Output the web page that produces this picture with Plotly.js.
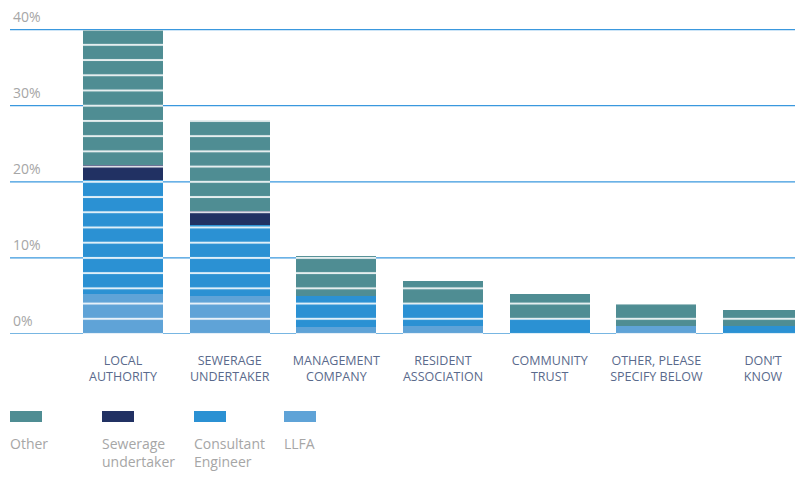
<!DOCTYPE html>
<html>
<head>
<meta charset="utf-8">
<script src="https://cdn.plot.ly/plotly-3.0.1.min.js"></script>
<style>html,body{margin:0;padding:0;background:#fff;}#chart{width:795px;height:491px;}</style>
</head>
<body>
<div id="chart"></div>
<script>
// Categories (x axis)
const categories = ["LOCAL<br>AUTHORITY", "SEWERAGE<br>UNDERTAKER", "MANAGEMENT<br>COMPANY", "RESIDENT<br>ASSOCIATION", "COMMUNITY<br>TRUST", "OTHER, PLEASE<br>SPECIFY BELOW", "DON\u2019T<br>KNOW"];
// Series values (%), stacked bottom to top
const llfa       = [5.2, 5.0, 0.9, 1.0, 0.0, 1.0, 0.0];
const consultant = [15.1, 9.3, 4.15, 3.0, 2.0, 0.0, 1.0];
const sewerage   = [1.9, 1.8, 0.0, 0.0, 0.0, 0.0, 0.0];
const other      = [17.8, 12.0, 5.25, 2.9, 3.2, 2.96, 2.1];
const seriesNames = ["Other", "Sewerage<br>undertaker", "Consultant<br>Engineer", "LLFA"];
const yTickVals = [0, 10, 20, 30, 40];
const yTickText = ["0%", "10%", "20%", "30%", "40%"];

const colors = {other: "#4f8d93", sewerage: "#213163", consultant: "#2b91d3", llfa: "#5fa3d7"};

const W = 795, H = 491;
const M = {l: 10, r: 0, t: 22, b: 157};
const plotH = H - M.t - M.b;
const yMax = 41;
const ppu = plotH / yMax;
const xIdx = categories.map((c, i) => i);

function barTrace(name, vals, color) {
  return {
    type: "bar", name: name, x: xIdx, y: vals, width: 0.75,
    marker: {
      color: color, line: {width: 0},
      pattern: {shape: "-", fillmode: "overlay", bgcolor: color, fgcolor: "#ffffff", fgopacity: 0.85, size: 2 * ppu, solidity: 0.13}
    },
    hoverinfo: "none", showlegend: false
  };
}

const data = [
  barTrace("LLFA", llfa, colors.llfa),
  barTrace("Consultant Engineer", consultant, colors.consultant),
  barTrace("Sewerage undertaker", sewerage, colors.sewerage),
  barTrace("Other", other, colors.other)
];

const plotW = W - M.l - M.r;
const px2x = px => (px - M.l) / plotW;
const px2y = py => (M.t + plotH - py) / plotH;
const shapes = [], annotations = [];

// horizontal grid lines (drawn below the bars)
yTickVals.forEach(v => {
  shapes.push({type: "line", layer: "below", xref: "paper", yref: "y", x0: 0, x1: 1, y0: v, y1: v,
    line: {color: v === 0 ? "#78b6e2" : "#3a98de", width: v === 0 ? 2 : 1.2}});
});

// custom legend (boxes above labels)
const legendColors = [colors.other, colors.sewerage, colors.consultant, colors.llfa];
const legendX = [10, 102, 194, 284];
seriesNames.forEach((n, i) => {
  shapes.push({type: "rect", xref: "paper", yref: "paper", x0: px2x(legendX[i]), x1: px2x(legendX[i] + 32), y0: px2y(422), y1: px2y(411), fillcolor: legendColors[i], line: {width: 0}});
  annotations.push({xref: "paper", yref: "paper", x: px2x(legendX[i] - 2), y: px2y(432), xanchor: "left", yanchor: "top", align: "left", showarrow: false, text: n, font: {family: "Open Sans, sans-serif", size: 14, color: "#a6a6a6"}});
});

const layout = {
  width: W, height: H,
  margin: M,
  paper_bgcolor: "#ffffff", plot_bgcolor: "#ffffff",
  barmode: "stack",
  showlegend: false,
  font: {family: "Open Sans, sans-serif"},
  xaxis: {
    range: [-1.0594, 6.3], tickvals: xIdx, ticktext: categories,
    showgrid: false, zeroline: false, showline: false, ticks: "",
    tickfont: {size: 12.5, color: "#5a6a8c"}, ticklabelstandoff: 17, fixedrange: true
  },
  yaxis: {
    range: [0, yMax], tickvals: yTickVals, ticktext: yTickText,
    showgrid: false, zeroline: false, showline: false, ticks: "",
    ticklabelposition: "inside", ticklabelshift: -13, ticklabelstandoff: 0, ticklabeloverflow: "allow",
    tickfont: {size: 14, color: "#a6a6a6"}, fixedrange: true
  },
  shapes: shapes,
  annotations: annotations
};

Plotly.newPlot("chart", data, layout, {displayModeBar: false, staticPlot: true});
</script>
</body>
</html>
